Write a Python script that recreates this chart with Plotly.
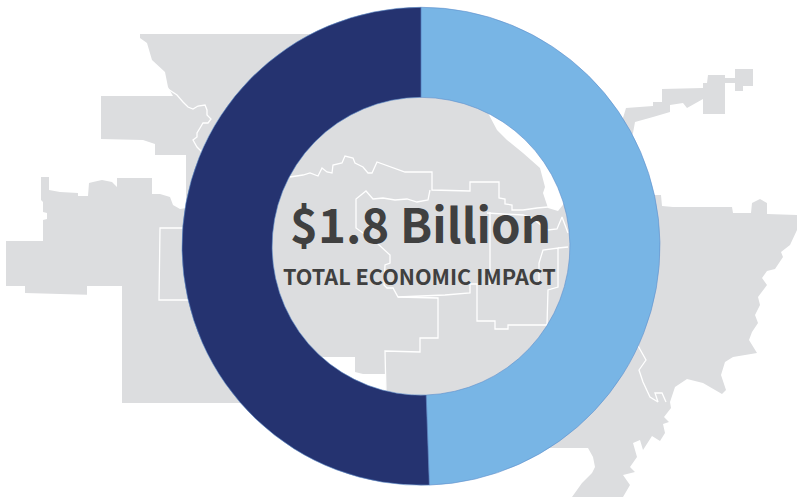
import plotly.graph_objects as go

# Donut values ($ billions)
segment_labels = ["Segment A", "Segment B"]
segment_values = [0.89, 0.91]
segment_colors = ["#78B5E5", "#253370"]
headline = "$1.8 Billion"
subhead = "TOTAL ECONOMIC IMPACT"

# Background map silhouette (picture coordinates of the decorative map)
map_outline = [
    (140,34),(310,34),(420,34),(445,60),(488,113),(497,130),(507,140),(523,153),(540,168),(545,187),
    (543,193),(548,208),(558,211),(575,190),(600,135),(623,118),(626,108),(653,106),(653,102),(662,102),
    (662,89),(703,88),(703,83),(707,83),(708,75),(725,75),(725,78),(735,78),(735,69),(753,69),
    (753,86),(743,86),(743,91),(735,91),(735,83),(725,83),(725,114),(703,114),(703,99),(687,108),
    (683,103),(670,105),(670,112),(653,117),(635,122),(633,133),(620,165),(640,190),(654,195),(661,195),
    (662,206),(673,207),(732,207),(733,213),(751,213),(752,203),(760,199),(767,203),(767,214),(797,215),
    (797,230),(790,245),(781,252),(783,257),(775,269),(767,271),(762,278),(767,285),(758,297),(760,305),
    (755,315),(758,323),(752,332),(749,340),(757,353),(733,357),(725,362),(721,375),(726,390),(722,394),
    (703,383),(687,379),(675,387),(670,402),(671,408),(664,417),(669,422),(663,424),(665,433),(660,441),
    (652,436),(643,450),(640,440),(633,443),(637,457),(630,467),(635,472),(623,475),(630,485),(623,497),
    (572,497),(582,483),(592,473),(595,467),(593,457),(588,448),(547,448),(386,440),(386,393),(385,374),
    (363,374),(355,372),(355,357),(323,357),(280,370),(260,403),(231,403),(122,403),(122,286),(87,286),
    (87,294.7),(25,293),(25,286),(6,286),(6,241),(43,241),(43,220),(47,219),(47,213),(43,212),
    (43,202),(41,200),(41,177),(49,177),(49,190),(60,192),(78,193),(78,196),(88,196),(89,183),
    (93,182),(102,180),(112,182),(117,187),(117,178),(152,178),(152,194),(160,194),(170,197),(173,205),
    (180,209),(186,208),(186,155),(155,155),(155,144),(143,140),(101,139),(101,96),(173,96),(168,87),
    (165,72),(152,60),(147,43),(140,38),
]

# White internal borders of the map
border_river_nw = [(168,89),(177,95),(183,102),(188,107),(193,109),(198,106),(205,105),(207,110),(207,115),(211,119),
                   (208,123),(203,123),(200,128),(197,133),(197,137),(193,140),(197,147),(202,152)]
border_box_w = [(185,228),(160,228),(159,300),(190,300)]
border_north = [(290,177),(303,175),(310,173),(318,176),(322,168),(327,172),(332,173),(333,165),(342,163),(345,156),
                (353,158),(355,163),(363,167),(368,173),(372,173),(377,162),(405,172),(432,172),(432,190),(470,191),
                (470,182),(499,182),(499,198),(505,199),(505,204),(512,205),(512,210),(523,210),(537,208),(548,207)]
border_central = [(430,190),(428,200),(417,202),(407,199),(395,200),(383,198),(373,199),(366,191),(356,199),(356,228),
                  (377,243),(390,255),(390,263),(385,265),(384,285),(387,288),(393,288),(398,297),(438,298),(438,338),
                  (420,338),(420,352),(385,351),(386,393)]
border_south = [(398,297),(445,295),(470,293),(470,284),(477,284),(477,321),(495,321),(495,329),(508,329),(508,325),
                (547,325),(548,290),(558,287),(558,248),(543,250),(539,263),(539,285)]
border_east = [(490,212),(490,285)]
border_east2 = [(487,213),(523,215),(530,217),(548,230),(557,229),(562,217),(568,233)]
border_east3 = [(558,248),(568,247)]
border_river_se = [(637,344),(646,360),(639,370),(643,382),(650,397),(658,402),(655,393),(662,393),(666,402)]
borders = [border_river_nw, border_box_w, border_north, border_central, border_south,
           border_east, border_east2, border_east3, border_river_se]

W, H = 797, 499
fig = go.Figure()
fig.add_trace(go.Scatter(x=[p[0] for p in map_outline] + [map_outline[0][0]],
                         y=[p[1] for p in map_outline] + [map_outline[0][1]],
                         mode="lines", fill="toself", fillcolor="#DCDDDF",
                         line=dict(width=0), hoverinfo="skip", showlegend=False))
for b in borders:
    fig.add_trace(go.Scatter(x=[p[0] for p in b], y=[p[1] for p in b], mode="lines",
                             line=dict(color="#FFFFFF", width=1.3), hoverinfo="skip", showlegend=False))

fig.add_trace(go.Pie(labels=segment_labels, values=segment_values, sort=False, direction="clockwise",
                     rotation=0, hole=0.623, textinfo="none", showlegend=False,
                     marker=dict(colors=segment_colors, line=dict(color="#5F8FCB", width=0.6)),
                     domain=dict(x=[182/W, 660/W], y=[(H-485.5)/H, (H-7)/H])))

fig.update_layout(
    width=W, height=H, margin=dict(l=0, r=0, t=0, b=0),
    paper_bgcolor="white", plot_bgcolor="white", hovermode=False,
    xaxis=dict(range=[0, W], visible=False, fixedrange=True),
    yaxis=dict(range=[H, 0], visible=False, fixedrange=True),
    annotations=[
        dict(x=420, y=222.5, xref="x", yref="y", text="<b>%s</b>" % headline, showarrow=False,
             font=dict(family="Noto Sans CJK SC", size=47.4, color="#404040")),
        dict(x=419.5, y=275.5, xref="x", yref="y", text="<b>%s</b>" % subhead, showarrow=False,
             font=dict(family="Noto Sans CJK SC", size=21.6, color="#404040")),
    ],
)
fig.write_html("out.html", config=dict(displayModeBar=False),
               post_script="document.body.style.margin='0';document.body.style.overflow='hidden';")
